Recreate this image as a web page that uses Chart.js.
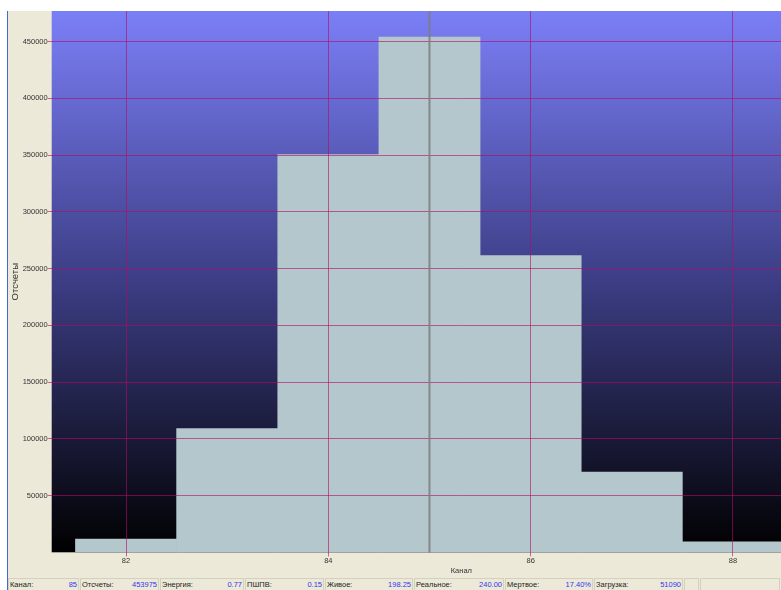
<!DOCTYPE html>
<html>
<head>
<meta charset="utf-8">
<script src="https://cdn.jsdelivr.net/npm/chart.js@4.4.1/dist/chart.umd.min.js"></script>
<style>
  html, body { margin: 0; padding: 0; width: 781px; height: 590px; overflow: hidden; background: #ffffff; font-family: "Liberation Sans", Arial, sans-serif; }
  #panel { position: absolute; left: 7px; top: 11px; width: 774px; height: 579px; background: #ECE9D8; border-left: 1px solid #3C6BD6; box-sizing: border-box; }
  #wrap { position: absolute; left: 8px; top: 11px; width: 863px; height: 567px; }
  #status { position: absolute; left: 8px; top: 578px; width: 773px; height: 12px; }
  .cell { position: absolute; top: 0; height: 12px; box-sizing: border-box; border: 1px solid #D4D0C0; border-bottom: none; font-size: 7.5px; line-height: 11px; white-space: nowrap; }
  .cell .l { position: absolute; left: 1px; top: 0; color: #222222; }
  .cell .v { position: absolute; right: 1px; top: 0; color: #3535EE; }
</style>
</head>
<body>
<div id="panel"></div>
<div id="wrap"><canvas id="spectrum" width="863" height="567"></canvas></div>
<div id="status"></div>
<script>
// Spectrum counts per channel
const channels = [81, 82, 83, 84, 85, 86, 87, 88];
const counts   = [0, 11800, 109000, 350400, 453975, 261500, 70700, 9400];

// Axis ticks
const xTickValues = [82, 84, 86, 88];
const yTickValues = [50000, 100000, 150000, 200000, 250000, 300000, 350000, 400000, 450000];

// Cursor position (selected channel)
const cursorChannel = 85;

// Axis titles
const xTitle = 'Канал';
const yTitle = 'Отсчеты';

// Status bar fields
const statusLabels = ['Канал:', 'Отсчеты:', 'Энергия:', 'ПШПВ:', 'Живое:', 'Реальное:', 'Мертвое:', 'Загрузка:', '', ''];
const statusValues = ['85', '453975', '0.77', '0.15', '198.25', '240.00', '17.40%', '51090', '', ''];
const statusEdges  = [0, 72, 152, 237, 317, 406, 497, 586, 676, 692, 773];

// status bar
const statusEl = document.getElementById('status');
statusLabels.forEach((lab, i) => {
  const c = document.createElement('div');
  c.className = 'cell';
  c.style.left = statusEdges[i] + 'px';
  c.style.width = (statusEdges[i + 1] - statusEdges[i] - 1) + 'px';
  c.innerHTML = '<span class="l"></span><span class="v"></span>';
  c.querySelector('.l').textContent = lab;
  c.querySelector('.v').textContent = statusValues[i];
  statusEl.appendChild(c);
});

const gridColor = 'rgba(178, 10, 100, 0.6)';
const tickFont = { family: '"Liberation Sans", Arial, sans-serif', size: 7.5 };

// vertical gradient behind the plot area
const plotBackground = {
  id: 'plotBackground',
  beforeDraw(chart) {
    const { ctx, chartArea: a } = chart;
    const g = ctx.createLinearGradient(0, a.top, 0, a.bottom);
    g.addColorStop(0, '#7B7FF6');
    g.addColorStop(0.5, '#3C3D84');
    g.addColorStop(1, '#000000');
    ctx.save();
    ctx.fillStyle = g;
    ctx.fillRect(a.left, a.top, a.right - a.left, a.bottom - a.top);
    ctx.restore();
  }
};

// gray cursor line at the selected channel
const cursorLine = {
  id: 'cursorLine',
  afterDraw(chart) {
    const { ctx, chartArea: a, scales } = chart;
    const x = scales.x.getPixelForValue(cursorChannel);
    ctx.save();
    ctx.strokeStyle = 'rgba(125, 125, 125, 0.85)';
    ctx.lineWidth = 2;
    ctx.beginPath();
    ctx.moveTo(x, a.top);
    ctx.lineTo(x, a.bottom);
    ctx.stroke();
    ctx.restore();
  }
};

new Chart(document.getElementById('spectrum'), {
  type: 'bar',
  data: {
    datasets: [{
      data: channels.map((c, i) => ({ x: c, y: counts[i] })),
      backgroundColor: '#B4C7CC',
      borderWidth: 0,
      barPercentage: 1,
      categoryPercentage: 1
    }]
  },
  options: {
    responsive: false,
    animation: false,
    devicePixelRatio: 1,
    layout: { padding: 0 },
    plugins: { legend: { display: false }, tooltip: { enabled: false } },
    scales: {
      x: {
        type: 'linear',
        min: 81.265,
        max: 89.365,
        offset: false,
        border: { display: false },
        grid: { z: 1, offset: false, color: gridColor, lineWidth: 1, tickLength: 4, drawTicks: true },
        ticks: { font: tickFont, color: '#333333', padding: 0, maxRotation: 0 },
        title: { display: true, text: xTitle, font: tickFont, color: '#333333', padding: { top: 0, bottom: 3 } },
        afterBuildTicks(s) { s.ticks = xTickValues.map(v => ({ value: v })); },
        afterFit(s) { s.height = 25.6; s.paddingLeft = 0; s.paddingRight = 0; }
      },
      y: {
        type: 'linear',
        min: 0,
        max: 477000,
        border: { display: false },
        grid: { z: 1, color: gridColor, lineWidth: 1, tickLength: 4, drawTicks: true },
        ticks: { font: tickFont, color: '#333333', padding: 0, callback: v => String(v) },
        title: { display: true, text: yTitle, font: { family: '"Liberation Sans", Arial, sans-serif', size: 9.5 }, color: '#333333', padding: { top: 2, bottom: 0 } },
        afterBuildTicks(s) { s.ticks = yTickValues.map(v => ({ value: v })); },
        afterFit(s) { s.width = 43.7; s.paddingTop = 0; s.paddingBottom = 0; }
      }
    }
  },
  plugins: [plotBackground, cursorLine]
});
</script>
</body>
</html>
